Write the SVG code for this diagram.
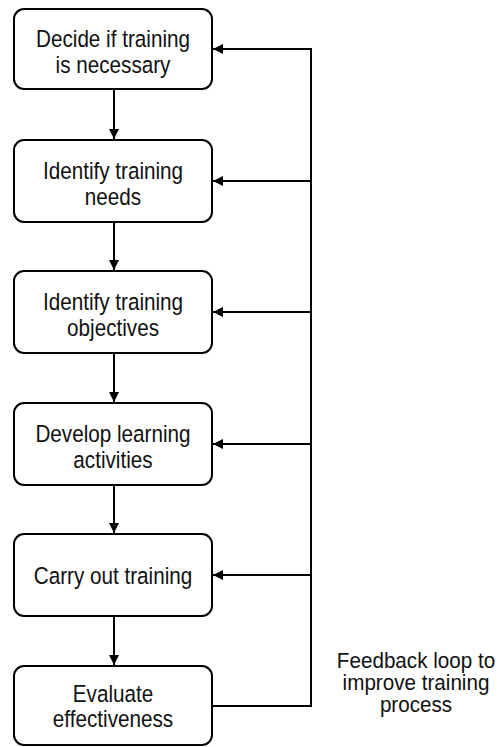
<svg xmlns="http://www.w3.org/2000/svg" width="499" height="747" viewBox="0 0 499 747">
<style>
.box{fill:#fff;stroke:#000;stroke-width:2}
.t{font-family:"Liberation Sans",Arial,sans-serif;font-size:23.5px;fill:#111;text-anchor:middle}
.f{font-family:"Liberation Sans",Arial,sans-serif;font-size:21.5px;fill:#111;text-anchor:middle}
.c{fill:none;stroke:#000;stroke-width:2}
</style>
<defs>
<marker id="ah" viewBox="0 0 10 10" refX="10" refY="5" markerWidth="5" markerHeight="5" orient="auto" markerUnits="strokeWidth">
<path d="M0,0 L10,5 L0,10 z" fill="#000"/>
</marker>
</defs>
<rect width="499" height="747" fill="#fff"/>
<g id="connectors">
<line class="c" x1="114" y1="90" x2="114" y2="139" marker-end="url(#ah)"/>
<line class="c" x1="114" y1="222" x2="114" y2="270" marker-end="url(#ah)"/>
<line class="c" x1="114" y1="353" x2="114" y2="402" marker-end="url(#ah)"/>
<line class="c" x1="114" y1="485" x2="114" y2="533" marker-end="url(#ah)"/>
<line class="c" x1="114" y1="616" x2="114" y2="665" marker-end="url(#ah)"/>
<polyline class="c" points="213,706 311,706 311,49 213,49" marker-end="url(#ah)"/>
<line class="c" x1="311" y1="181" x2="213" y2="181" marker-end="url(#ah)"/>
<line class="c" x1="311" y1="312" x2="213" y2="312" marker-end="url(#ah)"/>
<line class="c" x1="311" y1="444" x2="213" y2="444" marker-end="url(#ah)"/>
<line class="c" x1="311" y1="575" x2="213" y2="575" marker-end="url(#ah)"/>
</g>
<g id="n1"><rect class="box" x="14" y="9" width="198" height="80" rx="10"/><text class="t" transform="translate(113,47) scale(0.88,1)">Decide if training</text><text class="t" transform="translate(113,73) scale(0.88,1)">is necessary</text></g>
<g id="n2"><rect class="box" x="14" y="140" width="198" height="82" rx="10"/><text class="t" transform="translate(113,179) scale(0.88,1)">Identify training</text><text class="t" transform="translate(113,205) scale(0.88,1)">needs</text></g>
<g id="n3"><rect class="box" x="14" y="271" width="198" height="82" rx="10"/><text class="t" transform="translate(113,310) scale(0.88,1)">Identify training</text><text class="t" transform="translate(113,336) scale(0.88,1)">objectives</text></g>
<g id="n4"><rect class="box" x="14" y="403" width="198" height="82" rx="10"/><text class="t" transform="translate(113,442) scale(0.88,1)">Develop learning</text><text class="t" transform="translate(113,468) scale(0.88,1)">activities</text></g>
<g id="n5"><rect class="box" x="14" y="534" width="198" height="82" rx="10"/><text class="t" transform="translate(113,584) scale(0.88,1)">Carry out training</text></g>
<g id="n6"><rect class="box" x="14" y="666" width="198" height="79" rx="10"/><text class="t" transform="translate(113,702) scale(0.88,1)">Evaluate</text><text class="t" transform="translate(113,727) scale(0.88,1)">effectiveness</text></g>
<g id="label"><text class="f" transform="translate(416,668) scale(0.96,1)">Feedback loop to</text><text class="f" transform="translate(416,690) scale(0.96,1)">improve training</text><text class="f" transform="translate(416,712) scale(0.96,1)">process</text></g>
</svg>
